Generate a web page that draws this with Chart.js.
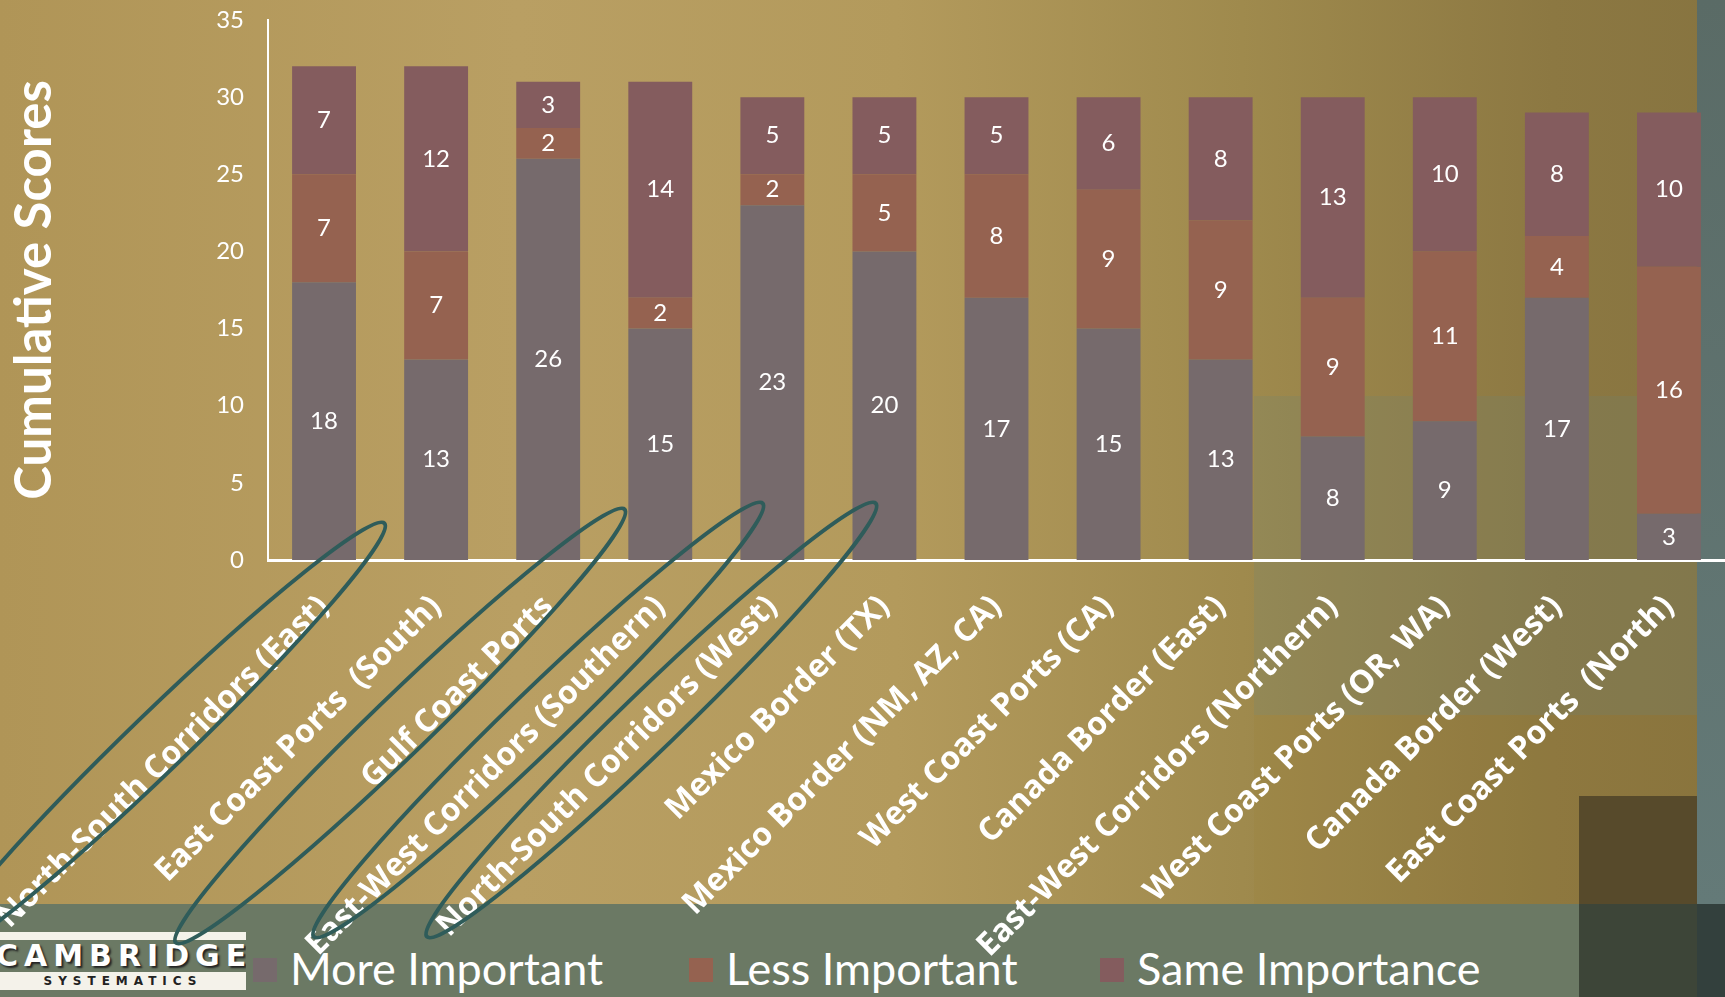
<!DOCTYPE html>
<html>
<head>
<meta charset="utf-8">
<script src="https://cdn.jsdelivr.net/npm/chart.js@4.4.1/dist/chart.umd.min.js"></script>
<style>
  html, body { margin:0; padding:0; width:1725px; height:997px; overflow:hidden; }
  body { position:relative; background: linear-gradient(to right, #b09557 0%, #b99f63 30%, #b39a5c 52%, #9f8a4d 72%, #8c7842 90%, #877440 100%); font-family: Lato, sans-serif; }
  .bg { position:absolute; }
  #wrap { position:absolute; left:0; top:0; width:1725px; height:997px; }
  canvas { position:absolute; left:0; top:0; }
  .logo { position:absolute; left:0; top:930px; width:246px; height:62px; overflow:hidden; }
  .logo .bar1 { position:absolute; left:0; top:2px; width:246px; height:8px; background:#f4f2ea; }
  .logo .name { position:absolute; left:-4px; top:10px; width:260px; height:32px; color:#fff; font:bold 30px "DejaVu Sans", sans-serif; letter-spacing:6px; line-height:32px; text-shadow:2px 2px 2px #222; white-space:nowrap; text-align:left; }
  .logo .bar2 { position:absolute; left:0; top:42px; width:246px; height:18px; background:#f4f2ea; color:#222; font:bold 12px "DejaVu Sans", sans-serif; letter-spacing:6px; line-height:18px; text-align:center; }
  #legend { position:absolute; left:0; top:940px; width:1725px; height:56px; }
  #legend .item { position:absolute; top:0; height:56px; }
  #legend .box { position:absolute; top:18px; width:24px; height:24px; }
  #legend .txt { position:absolute; top:0; left:37px; color:#fff; font:45px Lato, sans-serif; line-height:56px; white-space:nowrap; }
</style>
</head>
<body>
<div class="bg" style="left:1254px;top:396px;width:443px;height:319px;background:rgba(110,130,120,0.22);"></div>
<div class="bg" style="left:1254px;top:715px;width:443px;height:189px;background:rgba(160,120,40,0.12);"></div>
<div class="bg" style="left:1697px;top:0;width:28px;height:904px;background:linear-gradient(#5a6b66,#647a78);"></div>
<div class="bg" style="left:0;top:904px;width:1725px;height:93px;background:#6b7964;"></div>
<div class="bg" style="left:1579px;top:796px;width:118px;height:108px;background:#574a2b;"></div>
<div class="bg" style="left:1579px;top:904px;width:118px;height:93px;background:#3d4538;"></div>
<div class="bg" style="left:1697px;top:904px;width:28px;height:93px;background:#33403d;"></div>
<div class="logo">
  <div class="bar1"></div>
  <div class="name">CAMBRIDGE</div>
  <div class="bar2">SYSTEMATICS</div>
</div>
<div id="legend"></div>
<div id="wrap"><canvas id="c" width="1725" height="997"></canvas></div>
<script>
const categories = [
  "North-South Corridors (East)",
  "East Coast Ports  (South)",
  "Gulf Coast Ports",
  "East-West Corridors (Southern)",
  "North-South Corridors (West)",
  "Mexico Border (TX)",
  "Mexico Border (NM, AZ, CA)",
  "West Coast Ports (CA)",
  "Canada Border (East)",
  "East-West Corridors (Northern)",
  "West Coast Ports (OR, WA)",
  "Canada Border (West)",
  "East Coast Ports  (North)"
];
const moreImportant = [18, 13, 26, 15, 23, 20, 17, 15, 13, 8, 9, 17, 3];
const lessImportant = [7, 7, 2, 2, 2, 5, 8, 9, 9, 9, 11, 4, 16];
const sameImportance = [7, 12, 3, 14, 5, 5, 5, 6, 8, 13, 10, 8, 10];
const seriesNames = ["More Important", "Less Important", "Same Importance"];
const seriesColors = ["#766a6c", "#956250", "#845c5e"];
const yTicks = [0, 5, 10, 15, 20, 25, 30, 35];
const highlighted = [0, 2, 3, 4];
const ellipseShape = [
  {dx:-164, dy:180}, {dx:-148, dy:166}, {dx:-122, dy:160}, {dx:-121, dy:160}
];
const legendX = [253, 689, 1100];

// HTML legend built from the series arrays
const legendEl = document.getElementById('legend');
seriesNames.forEach((name, i) => {
  const it = document.createElement('div');
  it.className = 'item';
  it.style.left = legendX[i] + 'px';
  const b = document.createElement('div');
  b.className = 'box';
  b.style.background = seriesColors[i];
  const t = document.createElement('div');
  t.className = 'txt';
  t.textContent = name;
  it.appendChild(b); it.appendChild(t);
  legendEl.appendChild(it);
});

const valueLabels = {
  id: 'valueLabels',
  afterDatasetsDraw(chart) {
    const ctx = chart.ctx;
    ctx.save();
    ctx.fillStyle = '#ffffff';
    ctx.font = '24px Lato, sans-serif';
    ctx.textAlign = 'center';
    ctx.textBaseline = 'middle';
    chart.data.datasets.forEach((ds, di) => {
      const meta = chart.getDatasetMeta(di);
      meta.data.forEach((el, i) => {
        const v = ds.data[i];
        if (!v) return;
        ctx.fillText(String(v), el.x, (el.y + el.base) / 2);
      });
    });
    ctx.restore();
  }
};

const ellipses = {
  id: 'ellipses',
  afterDraw(chart) {
    const ctx = chart.ctx;
    const xs = chart.scales.x, ys = chart.scales.y;
    ctx.save();
    ctx.strokeStyle = '#2f5c5a';
    ctx.lineWidth = 4;
    highlighted.forEach((ci, k) => {
      const cx = xs.getPixelForValue(ci) + ellipseShape[k].dx;
      const cy = ys.getPixelForValue(0) + ellipseShape[k].dy;
      ctx.beginPath();
      ctx.ellipse(cx, cy, 312, 29, -44 * Math.PI / 180, 0, Math.PI * 2);
      ctx.stroke();
    });
    ctx.restore();
  }
};

const datasets = [moreImportant, lessImportant, sameImportance].map((d, i) => ({
  label: seriesNames[i],
  data: d,
  backgroundColor: seriesColors[i],
  borderWidth: 0,
  barPercentage: 0.57,
  categoryPercentage: 1.0
}));

new Chart(document.getElementById('c'), {
  type: 'bar',
  data: { labels: categories, datasets },
  options: {
    responsive: false,
    animation: false,
    devicePixelRatio: 1,
    layout: { padding: { top: 20, left: 0, right: 0, bottom: 0 } },
    plugins: {
      tooltip: { enabled: false },
      legend: { display: false }
    },
    scales: {
      x: {
        stacked: true,
        grid: { display: false, drawTicks: false },
        border: { display: true, color: '#ffffff', width: 3 },
        ticks: {
          color: '#ffffff',
          autoSkip: false,
          maxRotation: 45,
          minRotation: 45,
          padding: 28,
          font: { family: '"Open Sans", sans-serif', size: 32, weight: 'bold' }
        },
        afterFit(scale) { scale.height = 437; scale.paddingLeft = 0; scale.paddingRight = 0; }
      },
      y: {
        stacked: true,
        min: 0,
        max: 35,
        afterBuildTicks(scale) { scale.ticks = yTicks.map(v => ({ value: v })); },
        grid: { display: false, drawTicks: false },
        border: { display: true, color: '#ffffff', width: 2 },
        ticks: {
          color: '#ffffff',
          padding: 24,
          font: { family: 'Lato, sans-serif', size: 24 }
        },
        title: {
          display: true,
          text: 'Cumulative Scores',
          color: '#ffffff',
          font: { family: 'Lato, sans-serif', size: 51, weight: 'bold' },
          padding: { top: 4, bottom: 4 }
        },
        afterFit(scale) { scale.width = 268; scale.paddingTop = 0; scale.paddingBottom = 0; }
      }
    }
  },
  plugins: [valueLabels, ellipses]
});
</script>
</body>
</html>
